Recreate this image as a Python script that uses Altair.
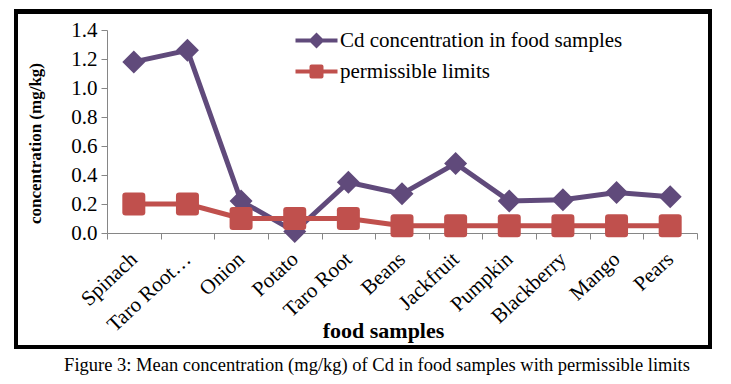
import altair as alt
import pandas as pd

foods = ["Spinach", "Taro Root…", "Onion", "Potato", "Taro Root", "Beans",
         "Jackfruit", "Pumpkin", "Blackberry", "Mango", "Pears"]
cd_values = [1.18, 1.26, 0.22, 0.01, 0.35, 0.27, 0.48, 0.22, 0.23, 0.28, 0.25]
limit_values = [0.2, 0.2, 0.1, 0.1, 0.1, 0.05, 0.05, 0.05, 0.05, 0.05, 0.05]
series_names = ["Cd concentration in food samples", "permissible limits"]
y_ticks = [0, 0.2, 0.4, 0.6, 0.8, 1.0, 1.2, 1.4]
caption = "Figure 3: Mean concentration (mg/kg) of Cd in food samples with permissible limits"

colors = ["#604A7B", "#C0504D"]

rows = []
for f, v in zip(foods, cd_values):
    rows.append({"food": f, "series": series_names[0], "value": v})
for f, v in zip(foods, limit_values):
    rows.append({"food": f, "series": series_names[1], "value": v})
df = pd.DataFrame(rows)

FONT = "Liberation Serif"
rounded_square = ("M-0.72,-1H0.72Q1,-1 1,-0.72V0.72Q1,1 0.72,1H-0.72Q-1,1 -1,0.72"
                  "V-0.72Q-1,-1 -0.72,-1Z")
legend_diamond = "M-2.1,-0.2H2.1V0.2H-2.1Z M0,-0.8L0.8,0L0,0.8L-0.8,0Z"
legend_square = ("M-2.1,-0.2H2.1V0.2H-2.1Z M-0.5,-0.7H0.5Q0.7,-0.7 0.7,-0.5"
                 "V0.5Q0.7,0.7 0.5,0.7H-0.5Q-0.7,0.7 -0.7,0.5V-0.5"
                 "Q-0.7,-0.7 -0.5,-0.7Z")
legend_color_expr = (f"datum.value === '{series_names[0]}' ? '{colors[0]}' : '{colors[1]}'")

x_enc = alt.X(
    "food:N", sort=foods, bandPosition=0.5,
    scale=alt.Scale(type="band", domain=foods, paddingInner=0, paddingOuter=0),
    axis=alt.Axis(
        title="food samples", titleFont=FONT, titleFontSize=22, titleFontWeight="bold",
        titleColor="black", titleX=276, titleY=104, titleBaseline="alphabetic",
        labelFont=FONT, labelFontSize=21, labelColor="black", labelAngle=-43,
        labelAlign="right", labelBaseline="middle", labelPadding=17,
        tickBand="extent", tickSize=6, tickColor="#868686", domainColor="#868686",
        labelOverlap=False, grid=False,
    ),
)
y_enc = alt.Y(
    "value:Q",
    scale=alt.Scale(domain=[0, 1.4], nice=False, zero=True),
    axis=alt.Axis(
        values=y_ticks, title="concentration (mg/kg)", titleFont=FONT,
        titleFontSize=17, titleFontWeight="bold", titleColor="black",
        titleX=-72, titleY=113, titleAngle=-90, titleBaseline="middle",
        labelFont=FONT, labelFontSize=21, labelColor="black", labelPadding=4,
        tickSize=6, tickColor="#868686", domainColor="#868686", grid=False,
    ),
)
color_scale = alt.Scale(domain=series_names, range=colors)

lines = alt.Chart(df).mark_line(strokeWidth=5).encode(
    x=x_enc, y=y_enc,
    color=alt.Color("series:N", scale=color_scale, legend=None),
)
points = alt.Chart(df).mark_point(filled=True, opacity=1, size=529).encode(
    x=x_enc, y=y_enc,
    color=alt.Color("series:N", scale=color_scale, legend=None),
    shape=alt.Shape("series:N", scale=alt.Scale(domain=series_names,
                                                 range=["diamond", rounded_square]),
                    legend=None),
)
legend_layer = alt.Chart(df).transform_filter("false").mark_point(
    filled=True, opacity=1, size=400
).encode(
    x=x_enc, y=y_enc,
    color=alt.Color("series:N", scale=color_scale, legend=None),
    shape=alt.Shape("series:N",
                    scale=alt.Scale(domain=series_names,
                                    range=[legend_diamond, legend_square]),
                    legend=alt.Legend(
                        title=None,
                        symbolFillColor=alt.ExprRef(expr=legend_color_expr),
                        symbolStrokeColor=alt.ExprRef(expr=legend_color_expr),
                    )),
)
border = alt.Chart(df).mark_rect(
    fill=None, stroke="black", strokeWidth=4, clip=False
).encode(
    x=alt.value(16 - 107), x2=alt.value(710 - 107),
    y=alt.value(11.5 - 30), y2=alt.value(347 - 30),
)

chart = alt.layer(border, lines, points, legend_layer).resolve_scale(
    shape="independent"
).properties(
    width=590, height=203,
    autosize=alt.AutoSizeParams(type="none"),
    padding={"left": 99, "top": 22, "right": 26, "bottom": 143},
    title=alt.TitleParams(caption, orient="bottom", anchor="middle", font=FONT,
                          fontSize=18.5, fontWeight="normal", color="black",
                          offset=7, dx=-25),
).configure_view(stroke=None).configure_legend(
    orient="none", legendX=199, legendY=0, padding=0, symbolSize=400,
    labelFont=FONT, labelFontSize=21, labelColor="black", labelOffset=13,
    rowPadding=9, symbolStrokeWidth=0, labelLimit=400,
)

chart.save("out.html", embed_options={"renderer": "svg", "actions": False})
